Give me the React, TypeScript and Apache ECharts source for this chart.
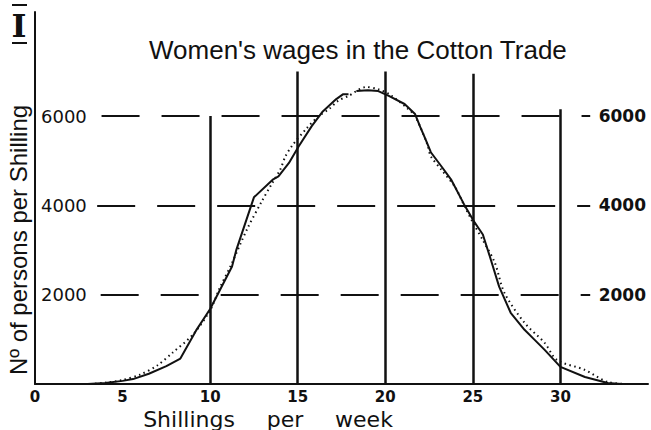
import React, { useEffect, useRef } from "react";
import * as echarts from "echarts";

// Shillings per week (x) vs number of persons per shilling (y)
const solidCurve: [number, number | string][] = [
  [0, 0], [3, 0], [4, 20], [5, 70], [5.6, 110], [6.5, 230], [7.5, 400], [8.3, 570],
  [9.2, 1200], [10, 1680], [11.25, 2630], [11.5, 3010], [12.5, 4180], [13.6, 4584],
  [13.9, 4650], [14.5, 4950], [15.06, 5325], [15.8, 5775], [16.4, 6090], [17.2, 6380],
  [17.6, 6490], [17.9, 6490], [18.12, "-"], [18.35, 6560], [19.0, 6580], [19.6, 6560],
  [20.2, 6450], [21.1, 6270], [21.7, 6045], [22.0, 5750], [22.3, 5480], [22.6, 5190],
  [23.2, 4876], [23.75, 4584], [24.5, 4022], [25.1, 3618], [25.3, 3505], [25.57, 3348],
  [25.97, 2854], [26.5, 2180], [27.16, 1595], [27.95, 1213], [28.5, 1000], [29.1, 764],
  [30, 382], [31.4, 157], [32.7, 22], [33.5, 0],
];

const dottedCurve: [number, number][] = [
  [0, 0], [3, 0], [4, 30], [5, 90], [6, 210], [7, 420], [7.85, 700], [9, 1100],
  [10, 1650], [10.5, 2110], [11.2, 2670], [12.1, 3460], [12.95, 4090], [13.5, 4470],
  [14.0, 4800], [14.3, 5100], [14.66, 5325], [15.5, 5720], [16.2, 6000], [16.8, 6160],
  [17.3, 6340], [17.9, 6450], [18.9, 6650], [19.6, 6600], [20.3, 6470], [21.3, 6160],
  [21.7, 6000], [22.4, 5370], [22.6, 5100], [23.2, 4800], [24, 4400], [24.5, 4000],
  [25, 3620], [25.6, 3200], [26.25, 2720], [26.8, 2045], [27.95, 1370], [29.1, 920],
  [29.8, 540], [31.4, 315], [32.7, 45], [34, 0],
];

const verticalX = [10, 15, 20, 25, 30];
const verticalTop = [6000, 7000, 7000, 6950, 6150];
const dashedLevels = [2000, 4000, 6000];
const dashedFrom = [3.75, 3.55, 3.8];
const dashedTo = 31.7;
const xTickLabels = [0, 5, 10, 15, 20, 25, 30];
const yTickLabels = [2000, 4000, 6000];

const TITLE = "Women's wages in the Cotton Trade";
const Y_NAME = "N\u00BA of persons per Shilling";
const X_NAME_WORDS = ["Shillings", "per", "week"];

export default function App() {
  const ref = useRef<HTMLDivElement>(null);
  useEffect(() => {
    if (!ref.current) return;
    const chart = echarts.init(ref.current, null, { renderer: "svg" });
    const black = "#111";
    const option: any = {
      animation: false,
      backgroundColor: "#fff",
      title: {
        text: TITLE,
        left: 144,
        top: 32,
        textStyle: { fontFamily: "Liberation Sans", fontSize: 26, fontWeight: "normal", color: black },
      },
      grid: { left: 35, right: 0, top: 12, bottom: 46 },
      xAxis: {
        type: "value",
        min: 0,
        max: 35,
        interval: 5,
        axisLine: { show: true, lineStyle: { color: black, width: 2 } },
        axisTick: { show: false },
        splitLine: { show: false },
        axisLabel: {
          margin: 5,
          color: black,
          fontFamily: "DejaVu Sans",
          fontSize: 15,
          fontWeight: "bold",
          lineHeight: 15,
          formatter: (v: number) => (xTickLabels.includes(v) ? String(v) : ""),
        },
      },
      yAxis: [
        {
          type: "value",
          min: 0,
          max: 8330,
          interval: 2000,
          axisLine: { show: true, lineStyle: { color: black, width: 2 } },
          axisTick: { show: false },
          splitLine: { show: false },
          axisLabel: {
            inside: true,
            margin: 6,
            color: black,
            fontFamily: "DejaVu Sans",
            fontSize: 18,
            formatter: (v: number) => (yTickLabels.includes(v) ? String(v) : ""),
          },
        },
        {
          type: "value",
          position: "right",
          min: 0,
          max: 8330,
          interval: 2000,
          axisLine: { show: false },
          axisTick: { show: false },
          splitLine: { show: false },
          axisLabel: {
            inside: true,
            margin: 2,
            color: black,
            fontFamily: "DejaVu Sans",
            fontSize: 17,
            fontWeight: "bold",
            formatter: (v: number) => (yTickLabels.includes(v) ? String(v) : ""),
          },
        },
      ],
      series: [
        {
          type: "line",
          name: "horizontal",
          data: [],
          markLine: {
            silent: true,
            symbol: ["none", "none"],
            label: { show: false },
            lineStyle: { color: black, width: 2, type: [38, 22], opacity: 1 },
            data: dashedLevels.map((lv, i) => [{ coord: [dashedFrom[i], lv] }, { coord: [dashedTo, lv] }]),
          },
        },
        {
          type: "line",
          name: "vertical",
          data: [],
          markLine: {
            silent: true,
            symbol: ["none", "none"],
            label: { show: false },
            lineStyle: { color: black, width: 2.5, type: "solid", opacity: 1 },
            data: verticalX.map((x, i) => [{ coord: [x, 0] }, { coord: [x, verticalTop[i]] }]),
          },
        },
        {
          type: "line",
          name: "dotted",
          data: dottedCurve,
          smooth: 0.3,
          symbol: "none",
          lineStyle: { color: black, width: 2, type: [1.5, 3.5] },
        },
        {
          type: "line",
          name: "solid",
          data: solidCurve,
          connectNulls: false,
          symbol: "none",
          lineStyle: { color: black, width: 2 },
        },
      ],
      graphic: [
        {
          type: "text",
          x: 19,
          y: 26,
          style: {
            text: "I",
            fontFamily: "DejaVu Serif",
            fontWeight: "bold",
            fontSize: 32,
            fill: black,
            align: "center",
            verticalAlign: "middle",
          },
        },
        { type: "rect", shape: { x: 12, y: 4, width: 15, height: 2 }, style: { fill: black } },
        { type: "rect", shape: { x: 12, y: 42, width: 15, height: 2 }, style: { fill: black } },
        {
          type: "text",
          x: 18,
          y: 240,
          rotation: Math.PI / 2,
          style: {
            text: Y_NAME,
            fontFamily: "Liberation Sans",
            fontSize: 24,
            fill: black,
            align: "center",
            verticalAlign: "middle",
          },
        },
        ...X_NAME_WORDS.map((w, i) => ({
          type: "text",
          x: [189, 285, 364][i],
          y: 419,
          style: {
            text: w,
            fontFamily: "DejaVu Sans",
            fontSize: 22,
            lineHeight: 22,
            fill: black,
            align: "center",
            verticalAlign: "middle",
          },
        })),
      ],
    };
    chart.setOption(option);
    return () => chart.dispose();
  }, []);
  return <div ref={ref} style={{ width: 651, height: 430, position: "absolute", left: 0, top: 0 }} />;
}
